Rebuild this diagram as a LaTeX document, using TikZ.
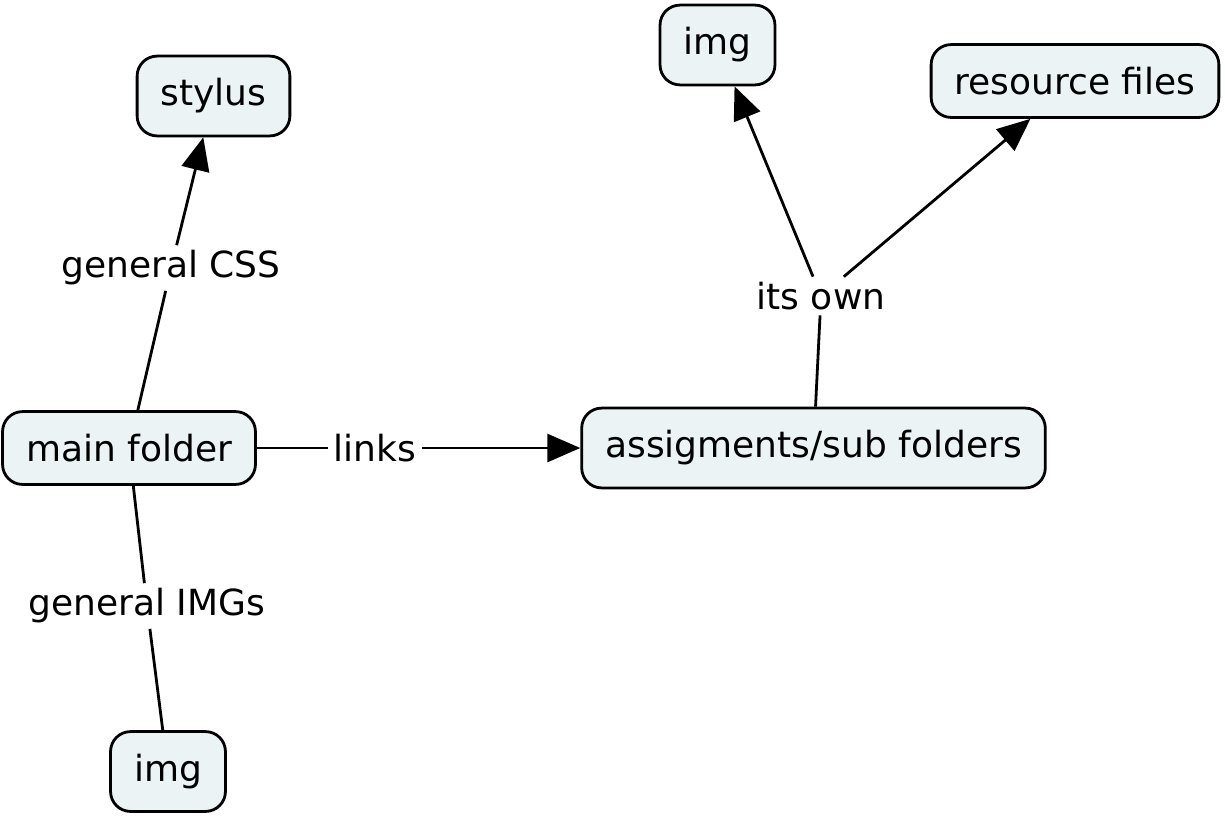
\documentclass[tikz,border=0pt]{standalone}
\usepackage{fontspec}
\setmainfont{DejaVu Sans}
\usepackage{tikz}
\usetikzlibrary{arrows.meta,positioning}
\definecolor{conceptfill}{HTML}{EBF3F5}

\begin{document}
\begin{tikzpicture}[x=1pt,y=-1pt,line width=2.8pt,
    font=\fontsize{36}{43}\selectfont,
    concept/.style={draw,fill=conceptfill,rounded corners=20pt,inner xsep=23.5pt,inner ysep=22.5pt},
    linkphrase/.style={fill=white,inner sep=4pt},
    tip/.style={-{Triangle[length=33pt,width=28pt]}}]

  \useasboundingbox (0,0) rectangle (1225,817);

  \node[concept]    (S) at (213.5,96)  {stylus};
  \node[concept]    (I) at (717.5,45)  {img};
  \node[concept]    (R) at (1075,81)   {resource files};
  \node[concept]    (M) at (129,448)   {main folder};
  \node[concept]    (A) at (813.5,448) {assigments/sub folders};
  \node[concept]    (J) at (168,771.5) {img};

  \node[linkphrase] (css)   at (171,268) {general CSS};
  \node[linkphrase] (links) at (375,448) {links};
  \node[linkphrase] (own)   at (821,296) {its own};
  \node[linkphrase] (imgs)  at (147,606) {general IMGs};

  \path
        (M)     edge        (css)
        (css)   edge [tip]  (S)
        (M)     edge        (links)
        (links) edge [tip]  (A)
        (M)     edge        (imgs)
        (imgs)  edge        (J)
        (A)     edge        (own)
        (own)   edge [tip]  (I)
                edge [tip]  (R);
\end{tikzpicture}
\end{document}
